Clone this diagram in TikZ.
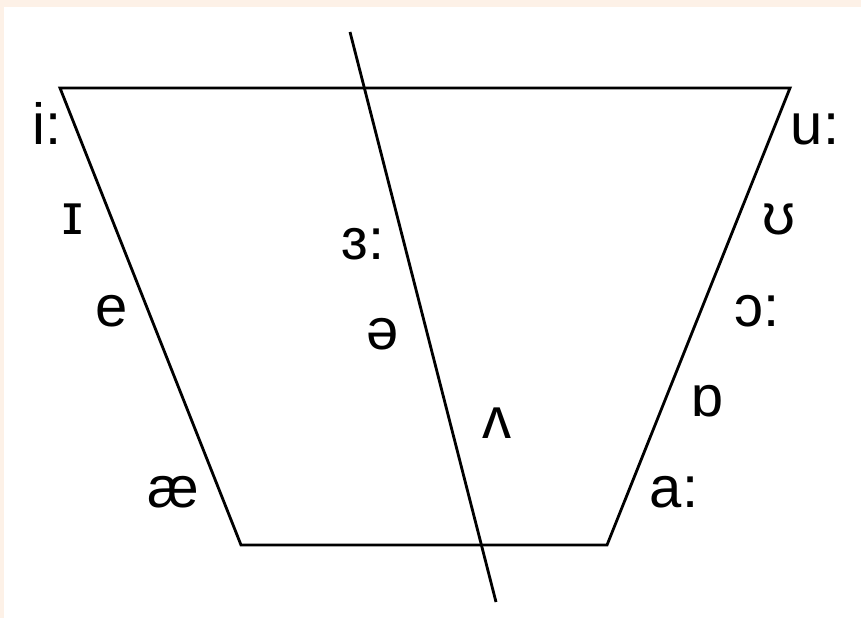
\documentclass[tikz,border=0pt]{standalone}
\usepackage{fontspec}
\setmainfont{Liberation Sans}
\usetikzlibrary{calc}

\definecolor{peach}{HTML}{FDF1E7}

\begin{document}
\begin{tikzpicture}[
  vowel/.style={font=\fontsize{16.5}{18}\selectfont, inner sep=0pt, anchor=base},
  edge/.style={line width=0.8pt, draw=black, line join=miter},
]

%% ── Canvas ─────────────────────────────────────────────────────────
\fill[peach] (0,0) rectangle (8.61,6.18);
\fill[white] (0.04,0) rectangle (8.61,6.11);
\useasboundingbox (0,0) rectangle (8.61,6.18);

%% ── Vowel trapezoid ────────────────────────────────────────────────
\coordinate (fhigh) at (0.60, 5.30);
\coordinate (bhigh) at (7.90, 5.30);
\coordinate (blow)  at (6.07, 0.73);
\coordinate (flow)  at (2.41, 0.73);
\draw[edge] (fhigh) -- (bhigh) -- (blow) -- (flow) -- cycle;

%% ── Central divider ────────────────────────────────────────────────
\coordinate (divtop) at (3.50, 5.86);
\coordinate (divbot) at (4.96, 0.16);
\draw[edge] (divtop) -- (divbot);

%% ── Front vowels ───────────────────────────────────────────────────
\node[vowel] (ii)  at (0.47, 4.73) {i:};
\node[vowel] (ih)  at (0.73, 3.83) {ɪ};
\node[vowel] (eh)  at (1.12, 2.91) {e};
\node[vowel] (ae)  at (1.73, 1.11) {æ};

%% ── Central vowels ─────────────────────────────────────────────────
\node[vowel] (er)  at (3.63, 3.58) {ɜ:};
\node[vowel] (sch) at (3.83, 2.68) {ə};
\node[vowel] (uh)  at (4.97, 1.80) {ʌ};

%% ── Back vowels ────────────────────────────────────────────────────
\node[vowel] (uu)  at (8.15, 4.73) {u:};
\node[vowel] (uhh) at (7.79, 3.83) {ʊ};
\node[vowel] (aw)  at (7.57, 2.91) {ɔ:};
\node[vowel] (oh)  at (7.08, 2.01) {ɒ};
\node[vowel] (aa)  at (6.74, 1.11) {a:};

\end{tikzpicture}
\end{document}
